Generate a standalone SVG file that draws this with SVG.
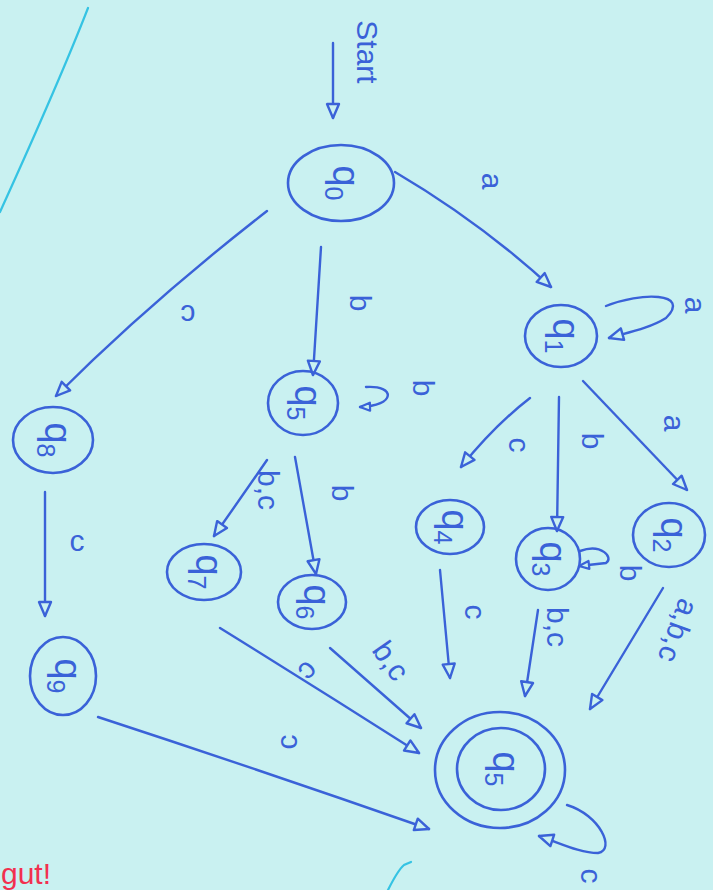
<svg xmlns="http://www.w3.org/2000/svg" width="713" height="890" viewBox="0 0 713 890">
<style>
.bg{fill:#c9f1f1}
.st{fill:none;stroke:#3a62d8;stroke-width:2.6;stroke-linecap:round}
.e{fill:none;stroke:#3a62d8;stroke-width:2.4;stroke-linecap:round;marker-end:url(#ah)}
.es{fill:none;stroke:#3a62d8;stroke-width:2.4;stroke-linecap:round;marker-end:url(#ahs)}
.lbl{font-family:"Liberation Sans","DejaVu Sans",sans-serif;font-size:30px;fill:#3a62d8;text-anchor:middle;dominant-baseline:middle}
.ql{font-family:"Liberation Sans","DejaVu Sans",sans-serif;font-size:38px;fill:#3a62d8;text-anchor:middle}
.sub{font-size:25px}
.cyan{fill:none;stroke:#35c3e3;stroke-width:2.2;stroke-linecap:round}
.red{font-family:"Liberation Sans","DejaVu Sans",sans-serif;font-size:30px;fill:#f2304f}
</style>
<defs>
<marker id="ah" viewBox="0 0 18 16" refX="16" refY="8" markerWidth="18" markerHeight="16" markerUnits="userSpaceOnUse" orient="auto">
<path d="M2,2 L16,8 L2,14 Z" fill="#c9f1f1" stroke="#3a62d8" stroke-width="2.4" stroke-linejoin="round"/>
</marker>
<marker id="ahs" viewBox="0 0 14 12" refX="12" refY="6" markerWidth="14" markerHeight="12" markerUnits="userSpaceOnUse" orient="auto">
<path d="M2,2 L12,6 L2,10 Z" fill="#c9f1f1" stroke="#3a62d8" stroke-width="2.2" stroke-linejoin="round"/>
</marker>
</defs>
<rect class="bg" x="0" y="0" width="713" height="890"/>
<path class="cyan" d="M88,8 Q60,80 0,212"/>
<path class="cyan" d="M388,890 Q398,870 404,865 L411,862"/>
<text class="red" x="1" y="884">gut!</text>

<g id="edges">
<path class="e" d="M333,43 L333,118"/>
<path class="e" d="M395,172 Q480,222 551,287"/>
<path class="e" d="M267,211 Q150,302 56,396"/>
<path class="e" d="M321,247 L313,375"/>
<path class="e" d="M606,306 C640,292 692,292 666,318 C650,328 630,332 609,338"/>
<path class="e" d="M530,398 Q495,425 461,467"/>
<path class="e" d="M559,397 L557,531"/>
<path class="e" d="M583,381 L687,490"/>
<path class="es" d="M366,387 C396,385 396,406 360,407"/>
<path class="e" d="M295,457 L316,574"/>
<path class="e" d="M267,460 Q245,492 214,536"/>
<path class="e" d="M45,492 L45,616"/>
<path class="es" d="M580,551 C602,543 614,558 606,563 L579,566"/>
<path class="e" d="M440,570 L450,678"/>
<path class="e" d="M538,610 L525,696"/>
<path class="e" d="M663,588 L590,709"/>
<path class="e" d="M330,648 L421,728"/>
<path class="e" d="M220,628 Q320,690 419,753"/>
<path class="e" d="M98,717 Q260,770 429,829"/>
<path class="e" d="M567,805 C600,815 616,850 598,853 C580,853 560,843 539,836"/>
</g>

<g id="edge-labels">
<text class="lbl" transform="translate(365,52) rotate(90)" font-size="36">Start</text>
<text class="lbl" transform="translate(490,181) rotate(90)">a</text>
<text class="lbl" transform="translate(693,305) rotate(90)">a</text>
<text class="lbl" transform="translate(358,303) rotate(90)">b</text>
<text class="lbl" transform="translate(188,313) rotate(180)">c</text>
<text class="lbl" transform="translate(421,388) rotate(90)">b</text>
<text class="lbl" transform="translate(517,445) rotate(90)">c</text>
<text class="lbl" transform="translate(590,441) rotate(90)">b</text>
<text class="lbl" transform="translate(672,423) rotate(90)">a</text>
<text class="lbl" transform="translate(628,573) rotate(90)" font-size="25">b</text>
<text class="lbl" transform="translate(340,493) rotate(90)">b</text>
<text class="lbl" transform="translate(266,490) rotate(90)">b,c</text>
<text class="lbl" transform="translate(77,543)">c</text>
<text class="lbl" transform="translate(473,612) rotate(90)">c</text>
<text class="lbl" transform="translate(555,627) rotate(90)">b,c</text>
<text class="lbl" transform="translate(676,630) rotate(110)">a,b,c</text>
<text class="lbl" transform="translate(389,662) rotate(55)">b,c</text>
<text class="lbl" transform="translate(307,670) rotate(135)">c</text>
<text class="lbl" transform="translate(289,742) rotate(-90)">c</text>
<text class="lbl" transform="translate(589,876) rotate(90)">c</text>
</g>

<g id="q0"><ellipse class="st" cx="341" cy="183" rx="53" ry="38"/><text class="ql" transform="translate(341,183) rotate(90)" y="8">q<tspan class="sub" dy="8">0</tspan></text></g>
<g id="q1"><ellipse class="st" cx="561" cy="336" rx="36" ry="31"/><text class="ql" transform="translate(561,336) rotate(90)" y="8">q<tspan class="sub" dy="8">1</tspan></text></g>
<g id="q2"><ellipse class="st" cx="669" cy="535" rx="36" ry="32"/><text class="ql" transform="translate(669,535) rotate(90)" y="8">q<tspan class="sub" dy="8">2</tspan></text></g>
<g id="q3"><ellipse class="st" cx="548" cy="559" rx="32" ry="31"/><text class="ql" transform="translate(548,559) rotate(90)" y="8">q<tspan class="sub" dy="8">3</tspan></text></g>
<g id="q4"><ellipse class="st" cx="450" cy="527" rx="34" ry="27"/><text class="ql" transform="translate(450,527) rotate(90)" y="8">q<tspan class="sub" dy="8">4</tspan></text></g>
<g id="q5"><ellipse class="st" cx="303" cy="403" rx="35" ry="32"/><text class="ql" transform="translate(303,403) rotate(90)" y="8">q<tspan class="sub" dy="8">5</tspan></text></g>
<g id="q6"><ellipse class="st" cx="312" cy="602" rx="34" ry="27"/><text class="ql" transform="translate(312,602) rotate(90)" y="8">q<tspan class="sub" dy="8">6</tspan></text></g>
<g id="q7"><ellipse class="st" cx="204" cy="572" rx="37" ry="28"/><text class="ql" transform="translate(204,572) rotate(90)" y="8">q<tspan class="sub" dy="8">7</tspan></text></g>
<g id="q8"><ellipse class="st" cx="53" cy="440" rx="40" ry="33"/><text class="ql" transform="translate(53,440) rotate(90)" y="8">q<tspan class="sub" dy="8">8</tspan></text></g>
<g id="q9"><ellipse class="st" cx="63" cy="676" rx="33" ry="39"/><text class="ql" transform="translate(63,676) rotate(90)" y="8">q<tspan class="sub" dy="8">9</tspan></text></g>
<g id="qf"><ellipse class="st" cx="500" cy="770" rx="65" ry="58"/><ellipse class="st" cx="501" cy="769" rx="44" ry="41"/><text class="ql" transform="translate(501,769) rotate(90)" y="8">q<tspan class="sub" dy="8">5</tspan></text></g>
</svg>
